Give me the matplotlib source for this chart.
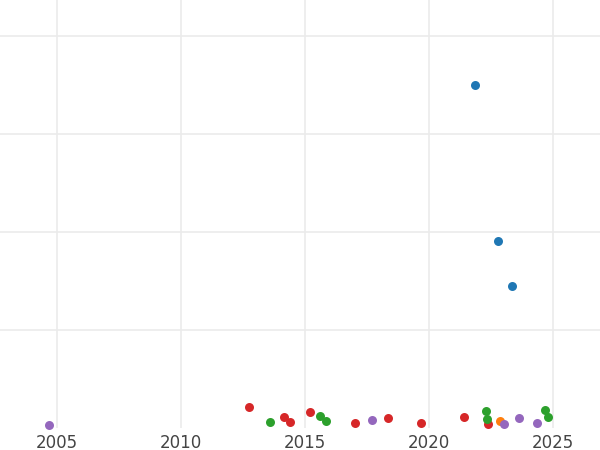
import matplotlib
matplotlib.use("Agg")
import matplotlib.pyplot as plt

blue_x = [2021.85, 2022.78, 2023.35]
blue_y = [3.50, 1.91, 1.45]
red_x = [2012.74, 2014.15, 2014.39, 2015.2, 2017.0, 2018.35, 2019.68, 2021.41, 2022.38]
red_y = [0.21, 0.11, 0.06, 0.16, 0.05, 0.10, 0.05, 0.11, 0.04]
green_x = [2013.59, 2015.6, 2015.85, 2022.30, 2022.34, 2024.68, 2024.80]
green_y = [0.06, 0.12, 0.07, 0.17, 0.09, 0.18, 0.11]
orange_x = [2022.86]
orange_y = [0.07]
purple_x = [2004.68, 2017.7, 2023.02, 2023.63, 2024.35]
purple_y = [0.03, 0.08, 0.04, 0.10, 0.05]

series = [
    (blue_x, blue_y, "#1f77b4"),
    (red_x, red_y, "#d62728"),
    (green_x, green_y, "#2ca02c"),
    (orange_x, orange_y, "#ff7f0e"),
    (purple_x, purple_y, "#9467bd"),
]

fig = plt.figure(figsize=(6, 4.5), dpi=100)
ax = fig.add_axes([0, 50/450, 1, 400/450 + 0.0])
ax.set_position([0, 22/450, 1, 428/450])
for xs, ys, c in series:
    ax.scatter(xs, ys, s=42, color=c, zorder=3, clip_on=False, linewidths=0)

ax.set_xlim(2002.70, 2026.9)
ax.set_ylim(0, 4.37)
ax.set_xticks([2005, 2010, 2015, 2020, 2025])
ax.set_yticks([1, 2, 3, 4])
ax.set_yticklabels([])
ax.grid(True, color="#ebebeb", linewidth=1.2)
ax.set_axisbelow(True)
for s in ax.spines.values():
    s.set_visible(False)
ax.tick_params(length=0, labelsize=12, labelcolor="#444444", pad=4)
fig.savefig("out.png", dpi=100)
